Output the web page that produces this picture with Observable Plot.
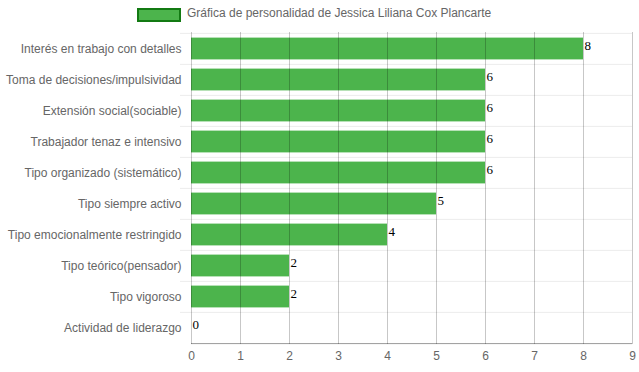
<!DOCTYPE html>
<html>
<head>
<meta charset="utf-8">
<script src="https://cdn.jsdelivr.net/npm/d3@7"></script>
<script src="https://cdn.jsdelivr.net/npm/@observablehq/plot@0.6"></script>
<style>
  body { margin: 0; background: #fff; font-family: "Liberation Sans", Arial, Helvetica, sans-serif; }
  #legend { position: relative; height: 26px; width: 639px; }
  #legend .box { position: absolute; left: 137px; top: 8px; width: 40px; height: 10px; background: #4CB44C; border: 2px solid #137A13; }
  #legend .lbl { position: absolute; left: 187px; top: 6px; font-size: 12px; color: #666; line-height: 14px; white-space: nowrap; }
</style>
</head>
<body>
<div id="legend"><div class="box"></div><div class="lbl">Gráfica de personalidad de Jessica Liliana Cox Plancarte</div></div>
<div id="chart"></div>
<script>
const categories = [
  "Interés en trabajo con detalles",
  "Toma de decisiones/impulsividad",
  "Extensión social(sociable)",
  "Trabajador tenaz e intensivo",
  "Tipo organizado (sistemático)",
  "Tipo siempre activo",
  "Tipo emocionalmente restringido",
  "Tipo teórico(pensador)",
  "Tipo vigoroso",
  "Actividad de liderazgo"
];
const values = [8, 6, 6, 6, 6, 5, 4, 2, 2, 0];
const xTicks = [0, 1, 2, 3, 4, 5, 6, 7, 8, 9];

const data = categories.map((c, i) => ({category: c, value: values[i]}));

const width = 639, height = 346;
const marginTop = 6, marginBottom = 28, marginLeft = 191, marginRight = 7;
const step = (height - marginTop - marginBottom) / categories.length;

const chart = Plot.plot({
  width, height, marginTop, marginBottom, marginLeft, marginRight,
  style: {fontFamily: '"Liberation Sans", Arial, Helvetica, sans-serif', fontSize: "12px", color: "#666", background: "#fff"},
  x: {domain: [0, 9], ticks: xTicks, label: null},
  y: {domain: categories, padding: 0, label: null},
  marks: [
    Plot.gridY({dy: -step / 2, stroke: "#000", strokeOpacity: 0.08}),
    Plot.axisY({tickSize: 11, dy: -step / 2, tickFormat: () => "", stroke: "#000", strokeOpacity: 0.08}),
    Plot.barX(data, {x: "value", y: "category", fill: "#4CB44C", insetTop: 4.6, insetBottom: 4.6}),
    Plot.gridX({ticks: xTicks, stroke: "#000", strokeOpacity: 0.22}),
    Plot.ruleY([categories[categories.length - 1]], {dy: step / 2, stroke: "#000", strokeOpacity: 0.4}),
    Plot.axisY({tickSize: 0, tickPadding: 10, fill: "#666", fontSize: 12}),
    Plot.axisX({ticks: xTicks, tickSize: 0, tickPadding: 7, fill: "#666", fontSize: 12}),
    Plot.text(data, {x: "value", y: "category", text: d => String(d.value), textAnchor: "start", dx: 1, dy: -3,
      fill: "#000", fontSize: 13, fontFamily: '"Liberation Serif", "Times New Roman", serif'})
  ]
});
document.getElementById("chart").appendChild(chart);
</script>
</body>
</html>
